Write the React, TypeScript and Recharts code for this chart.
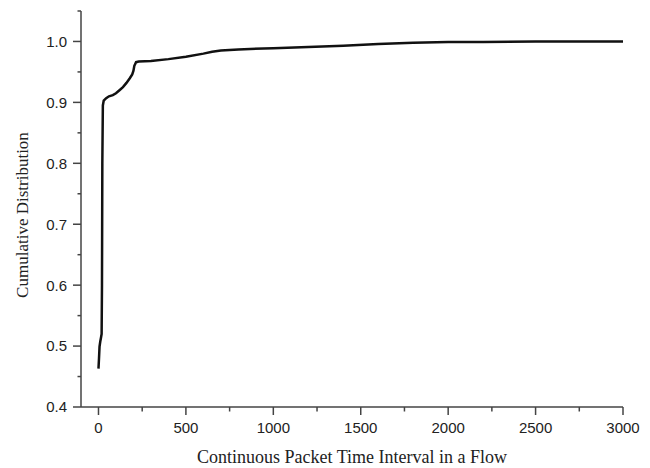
import { LineChart, Line, XAxis, YAxis, Label } from "recharts";

// interval (x) vs cumulative share (y)
const intervals = [
  0, 3, 6, 10, 15, 18, 20, 22, 25, 30, 44, 60, 82, 100, 120, 140, 160, 180,
  193, 200, 205, 215, 230, 300, 400, 500, 600, 650, 700, 800, 1000, 1200,
  1400, 1600, 1800, 2000, 2200, 2500, 2700, 3000,
];
const cdf = [
  0.463, 0.48, 0.499, 0.507, 0.515, 0.52, 0.6, 0.8, 0.895, 0.903, 0.907, 0.91,
  0.912, 0.915, 0.92, 0.925, 0.932, 0.94, 0.946, 0.952, 0.96, 0.966, 0.967,
  0.968, 0.971, 0.975, 0.98, 0.983, 0.985, 0.987, 0.989, 0.991, 0.993, 0.996,
  0.998, 0.999, 0.999, 1.0, 1.0, 1.0,
];

const xTicks = [
  0, 250, 500, 750, 1000, 1250, 1500, 1750, 2000, 2250, 2500, 2750, 3000,
];
const yTicks = [
  0.4, 0.45, 0.5, 0.55, 0.6, 0.65, 0.7, 0.75, 0.8, 0.85, 0.9, 0.95, 1.0, 1.05,
];

const data = intervals.map((x, i) => ({ x, y: cdf[i] }));

const AXIS = "#444";
const TICK_FONT = "'Liberation Sans', Arial, sans-serif";
const TITLE_FONT = "'Liberation Serif', 'Times New Roman', serif";

const XTick = (props: any) => {
  const { x, y, payload } = props;
  const major = payload.value % 500 === 0;
  return (
    <g>
      <line x1={x} y1={y} x2={x} y2={y + (major ? 8 : 4.5)} stroke={AXIS} strokeWidth={1.5} />
      {major && (
        <text x={x} y={y + 26} textAnchor="middle" fontSize={15} fontFamily={TICK_FONT} fill="#222">
          {payload.value}
        </text>
      )}
    </g>
  );
};

const YTick = (props: any) => {
  const { x, y, payload } = props;
  const major = Math.round(payload.value * 100) % 10 === 0;
  if (payload.value > 1.01) {
    return <line x1={x} y1={y} x2={x - 3.5} y2={y} stroke={AXIS} strokeWidth={1.5} />;
  }
  return (
    <g>
      <line x1={x} y1={y} x2={x - (major ? 8 : 3.5)} y2={y} stroke={AXIS} strokeWidth={1.5} />
      {major && (
        <text x={x - 14} y={y} dy="0.36em" textAnchor="end" fontSize={15} fontFamily={TICK_FONT} fill="#222">
          {payload.value.toFixed(1)}
        </text>
      )}
    </g>
  );
};

export default function App() {
  return (
    <div style={{ width: 642, height: 460, background: "#fff" }}>
      <LineChart width={642} height={460} data={data} margin={{ top: 3, right: 27, bottom: 21, left: 0 }}>
        <XAxis
          dataKey="x"
          type="number"
          domain={[-100, 3000]}
          ticks={xTicks}
          interval={0}
          tickSize={0}
          tickMargin={0}
          tickLine={false}
          tick={<XTick />}
          height={40}
          stroke={AXIS}
          strokeWidth={1.5}
        >
          <Label
            content={() => (
              <text x={344} y={455} textAnchor="middle" fontSize={18} fontFamily={TITLE_FONT} fill="#222">
                Continuous Packet Time Interval in a Flow
              </text>
            )}
          />
        </XAxis>
        <YAxis
          type="number"
          domain={[0.4, 1.05]}
          ticks={yTicks}
          interval={0}
          tickSize={0}
          tickMargin={0}
          tickLine={false}
          tick={<YTick />}
          width={73}
          stroke={AXIS}
          strokeWidth={1.5}
          allowDataOverflow
        >
          <Label
            content={() => (
              <text
                x={14}
                y={207}
                transform="rotate(-90 14 207)"
                dy="0.35em"
                textAnchor="middle"
                fontSize={17}
                fontFamily={TITLE_FONT}
                fill="#222"
              >
                Cumulative Distribution
              </text>
            )}
          />
        </YAxis>
        <Line
          dataKey="y"
          type="linear"
          stroke="#111"
          strokeWidth={2.5}
          dot={false}
          isAnimationActive={false}
        />
      </LineChart>
    </div>
  );
}
